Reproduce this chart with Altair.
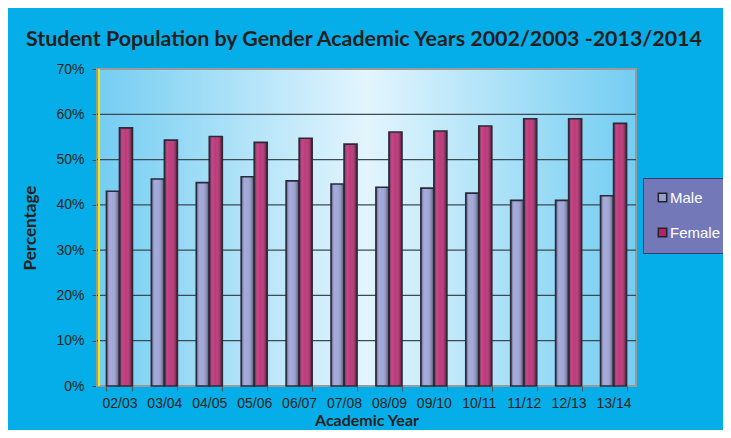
import altair as alt
import pandas as pd

years = ["02/03", "03/04", "04/05", "05/06", "06/07", "07/08",
         "08/09", "09/10", "10/11", "11/12", "12/13", "13/14"]
male = [0.43, 0.457, 0.449, 0.462, 0.453, 0.446, 0.439, 0.437, 0.426, 0.41, 0.41, 0.42]
female = [0.57, 0.543, 0.551, 0.538, 0.547, 0.534, 0.561, 0.563, 0.574, 0.59, 0.59, 0.58]
genders = ["Male", "Female"]
gender_colors = ["#969dd4", "#b8226c"]
y_ticks = [0, 0.1, 0.2, 0.3, 0.4, 0.5, 0.6, 0.7]

rows = []
for i, yr in enumerate(years):
    rows.append({"year": yr, "gender": "Male", "value": male[i]})
    rows.append({"year": yr, "gender": "Female", "value": female[i]})
df = pd.DataFrame(rows)
grid_df = pd.DataFrame({"v": y_ticks[1:]})

W, H = 539, 317

plot_bg = {
    "gradient": "linear", "x1": 0, "x2": 1, "y1": 0, "y2": 0,
    "stops": [
        {"offset": 0, "color": "#74cdf2"},
        {"offset": 0.5, "color": "#e3f5fd"},
        {"offset": 1, "color": "#74cdf2"},
    ],
}
shade = {
    "gradient": "linear", "x1": 0, "x2": 1, "y1": 0, "y2": 0,
    "stops": [
        {"offset": 0, "color": "rgba(10,0,40,0.6)"},
        {"offset": 0.3, "color": "rgba(255,255,255,0.15)"},
        {"offset": 0.5, "color": "rgba(255,255,255,0.1)"},
        {"offset": 1, "color": "rgba(0,0,0,0.55)"},
    ],
}

x_enc = alt.X("year:N", sort=years,
              scale=alt.Scale(paddingInner=0.42, paddingOuter=0.21),
              axis=alt.Axis(title="Academic Year", labelAngle=0, tickBand="extent",
                            labelFont="Liberation Sans", labelFontSize=14,
                            labelColor="#231f20", labelPadding=5,
                            tickSize=5, tickColor="#555555", domainColor="#777777",
                            titleFont="Lato", titleFontSize=16, titleFontWeight="bold",
                            titleColor="#231f20", titlePadding=2, grid=False))
y_enc = alt.Y("value:Q", scale=alt.Scale(domain=[0, 0.7], nice=False),
              axis=alt.Axis(title="Percentage", values=y_ticks, format=".0%",
                            labelFont="Liberation Sans", labelFontSize=14,
                            labelColor="#231f20", labelPadding=8,
                            tickSize=5, tickColor="#444444", domainColor="#777777",
                            domainWidth=2, grid=False,
                            titleFont="Lato", titleFontSize=17, titleFontWeight="bold",
                            titleColor="#231f20", titlePadding=16))
xo = alt.XOffset("gender:N", sort=genders, scale=alt.Scale(domain=genders))

bg = alt.Chart(pd.DataFrame({"k": [0]})).mark_rect(fill=plot_bg, stroke="#9a9a9a", strokeWidth=2).encode(
    x=alt.value(0), x2=alt.value(W), y=alt.value(0), y2=alt.value(H)
)
grid = alt.Chart(grid_df).mark_rule(strokeWidth=1.3).encode(
    y=alt.Y("v:Q"),
    color=alt.condition("datum.v >= 0.7", alt.value("#9a9a9a"), alt.value("#3c4a52")),
)
base = alt.Chart(df).mark_bar().encode(
    x=x_enc, y=y_enc, xOffset=xo,
    color=alt.Color("gender:N", sort=genders,
                    scale=alt.Scale(domain=genders, range=gender_colors),
                    legend=alt.Legend(title=None, orient="none", legendX=546, legendY=109,
                                      fillColor="#7378b9", strokeColor="#3a3d6a",
                                      padding=12, rowPadding=19,
                                      labelFont="Liberation Sans", labelFontSize=15,
                                      labelColor="white", labelOffset=0,
                                      symbolType="square", symbolSize=70,
                                      symbolStrokeColor="#222222", symbolStrokeWidth=1.5)),
)
overlay = alt.Chart(df).mark_bar(fill=shade, stroke="#2a2a38", strokeWidth=1.6).encode(
    x=alt.X("year:N", sort=years), y=alt.Y("value:Q"), xOffset=xo,
)
yellow = alt.Chart(pd.DataFrame({"k": [0]})).mark_rule(color="#f5ea00", strokeWidth=2).encode(
    x=alt.value(2), y=alt.value(0), y2=alt.value(H)
)

chart = alt.layer(bg, grid, base, overlay, yellow).properties(
    width=W, height=H,
    title=alt.TitleParams(
        "Student Population by Gender Academic Years 2002/2003 -2013/2014",
        anchor="start", frame="group", dx=-71, offset=12,
        font="Lato", fontSize=21.4, fontWeight="bold", color="#231f20"),
    autosize=alt.AutoSizeParams(type="none"),
    padding={"left": 89, "top": 61, "right": 87, "bottom": 44},
).configure(background="#05aee8").configure_view(stroke=None)

chart.save("out.html", embed_options={"renderer": "svg", "actions": False})
